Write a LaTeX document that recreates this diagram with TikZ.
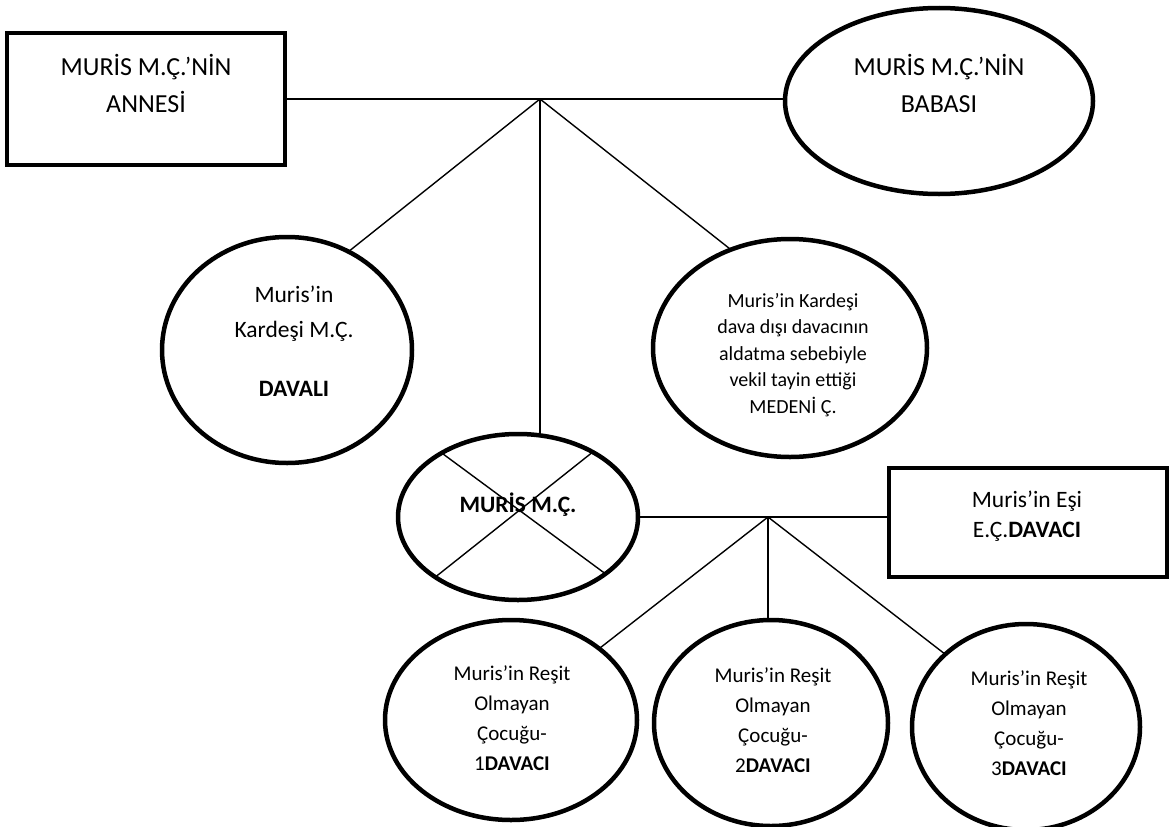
\documentclass[tikz,border=0pt]{standalone}
\usepackage{fontspec}
\setmainfont{Carlito}
\usetikzlibrary{shapes.geometric}
\begin{document}
\begin{tikzpicture}[x=1pt,y=-1pt,
  conn/.style={line width=1.4pt},
  oval/.style={ellipse, draw, line width=4.5pt, inner sep=0pt, outer sep=0pt},
  sqbox/.style={rectangle, draw, line width=4.5pt, inner sep=0pt, outer sep=0pt},
  lbl/.style={align=center, anchor=base, inner sep=0pt}]
\useasboundingbox (0,0) rectangle (1170,827);
% shapes
\node[sqbox, minimum width=278pt, minimum height=132pt] (mother) at (146,99) {};
\node[oval, minimum width=308pt, minimum height=186pt] (father) at (939,101) {};
\node[oval, minimum width=250pt, minimum height=226pt] (lk) at (287,350) {};
\node[oval, minimum width=274pt, minimum height=218pt] (rk) at (790,348) {};
\node[oval, minimum width=240pt, minimum height=166pt] (muris) at (518,517) {};
\node[sqbox, minimum width=278pt, minimum height=109pt] (spouse) at (1028,522.5) {};
\node[oval, minimum width=252pt, minimum height=200pt] (c1) at (511,720) {};
\node[oval, minimum width=234pt, minimum height=206pt] (c2) at (771,723) {};
\node[oval, minimum width=228pt, minimum height=206pt] (c3) at (1026,727) {};
% junctions
\coordinate (j1) at (540,99);
\coordinate (j2) at (768,517);
% connectors
\draw[conn] (mother.east) -- (mother.east -| father.west);
\draw[conn] (j1) -- (lk.58);
\draw[conn] (j1) -- (rk.121);
\draw[conn] (j1) -- (j1 |- muris.north);
\draw[conn] (muris.east) -- (muris.east -| spouse.west);
\draw[conn] (j2) -- (c1.39);
\draw[conn] (j2) -- (j2 |- c2.north);
\draw[conn] (j2) -- (c3.138);
% cross
\draw[conn] (muris.140) -- (muris.-33);
\draw[conn] (muris.41) -- (muris.216);
% texts (anchored at the baseline of the last line)
\node[lbl, font=\fontsize{26}{37}\selectfont] (tmother) at (146,112) {MURİS M.Ç.’NİN\\ANNESİ};
\node[lbl, font=\fontsize{26}{37}\selectfont] (tfather) at (939,112) {MURİS M.Ç.’NİN\\BABASI};
\node[lbl, font=\fontsize{23.5}{35}\selectfont] (tlk) at (294,396) {Muris’in\\Kardeşi M.Ç.\\[24pt]\textbf{DAVALI}};
\node[lbl, font=\fontsize{20}{26.5}\selectfont] (trk) at (793,413) {Muris’in Kardeşi\\dava dışı davacının\\aldatma sebebiyle\\vekil tayin ettiği\\MEDENİ Ç.};
\node[lbl, font=\fontsize{23.5}{28}\selectfont\bfseries] (tmuris) at (518,512) {MURİS M.Ç.};
\node[lbl, font=\fontsize{23.5}{30}\selectfont] (tspouse) at (1027,537) {Muris’in Eşi\\E.Ç.\textbf{DAVACI}};
\node[lbl, font=\fontsize{21}{30}\selectfont] (tc1) at (512,770) {Muris’in Reşit\\Olmayan\\Çocuğu-\\1\textbf{DAVACI}};
\node[lbl, font=\fontsize{21}{30}\selectfont] (tc2) at (773,772) {Muris’in Reşit\\Olmayan\\Çocuğu-\\2\textbf{DAVACI}};
\node[lbl, font=\fontsize{21}{30}\selectfont] (tc3) at (1029,775) {Muris’in Reşit\\Olmayan\\Çocuğu-\\3\textbf{DAVACI}};
\end{tikzpicture}
\end{document}
